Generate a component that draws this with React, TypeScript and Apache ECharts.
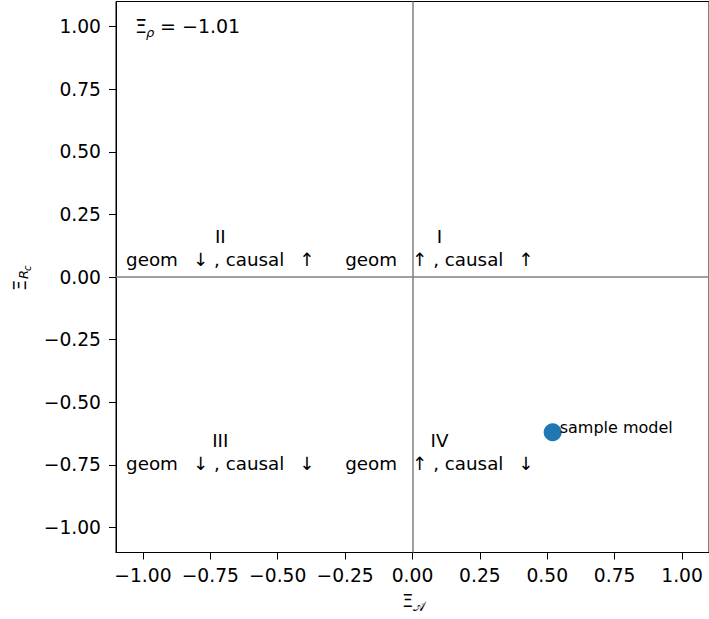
import React, { useEffect, useRef } from "react";
import * as echarts from "echarts";

const xTicks = [-1, -0.75, -0.5, -0.25, 0, 0.25, 0.5, 0.75, 1];
const yTicks = [-1, -0.75, -0.5, -0.25, 0, 0.25, 0.5, 0.75, 1];
const axisMin = -1.1;
const axisMax = 1.1;

const sampleName = "sample model";
const sampleX = [0.52];
const sampleY = [-0.62];

const quadrantNames = ["I", "II", "III", "IV"];
const quadrantTexts = [
  "geom\u2002 ↑ , causal\u2002 ↑",
  "geom\u2002 ↓ , causal\u2002 ↑",
  "geom\u2002 ↓ , causal\u2002 ↓",
  "geom\u2002 ↑ , causal\u2002 ↓",
];
const quadrantX = [0.1, -0.713, -0.713, 0.1];
const quadrantY = [0.116, 0.116, -0.7, -0.7];

const xiRhoValue = -1.01;

const FONT = "DejaVu Sans";

const fmt = (v: number) => (v < 0 ? "\u2212" : "") + Math.abs(v).toFixed(2);

export default function App() {
  const ref = useRef<HTMLDivElement>(null);
  useEffect(() => {
    if (!ref.current) return;
    const chart = echarts.init(ref.current, null, { renderer: "svg" });
    const option: any = {
      animation: false,
      backgroundColor: "#ffffff",
      grid: {
        left: 116,
        top: 1.5,
        width: 594,
        height: 551,
        show: true,
        borderColor: "#000000",
        borderWidth: 1,
        backgroundColor: "transparent",
      },
      xAxis: {
        type: "value",
        min: axisMin,
        max: axisMax,
        splitLine: { show: false },
        axisLine: { show: true, onZero: false, lineStyle: { color: "#000", width: 1 } },
        axisTick: { show: true, length: 7, customValues: xTicks, lineStyle: { color: "#000" } },
        axisLabel: {
          customValues: xTicks,
          formatter: fmt,
          fontFamily: FONT,
          fontSize: 18.7,
          color: "#000",
          margin: 13,
        },
      },
      yAxis: {
        type: "value",
        min: axisMin,
        max: axisMax,
        splitLine: { show: false },
        axisLine: { show: true, onZero: false, lineStyle: { color: "#000", width: 1 } },
        axisTick: { show: true, length: 7, customValues: yTicks, lineStyle: { color: "#000" } },
        axisLabel: {
          customValues: yTicks,
          formatter: fmt,
          fontFamily: FONT,
          fontSize: 18.7,
          color: "#000",
          margin: 15,
        },
      },
      series: [
        {
          type: "scatter",
          data: [],
          markLine: {
            silent: true,
            symbol: "none",
            label: { show: false },
            lineStyle: { color: "#808080", width: 1.5, type: "solid" },
            data: [{ xAxis: 0 }, { yAxis: 0 }],
          },
        },
        {
          type: "scatter",
          symbol: "circle",
          symbolSize: 1,
          itemStyle: { color: "rgba(0,0,0,0)" },
          silent: true,
          label: {
            show: true,
            position: "inside",
            formatter: (p: any) => p.data.text,
            fontFamily: FONT,
            fontSize: 18.3,
            lineHeight: 23,
            color: "#000000",
            opacity: 1,
            textBorderWidth: 0,
            align: "center",
          },
          data: quadrantNames.map((n, i) => ({
            value: [quadrantX[i], quadrantY[i]],
            text: n + "\n" + quadrantTexts[i],
          })),
          z: 3,
        },
        {
          type: "scatter",
          symbol: "circle",
          symbolSize: 18,
          itemStyle: { color: "#1f77b4", opacity: 1 },
          data: sampleX.map((x, i) => [x, sampleY[i]]),
          label: {
            show: true,
            position: "right",
            distance: -2,
            offset: [0, -5],
            formatter: sampleName,
            fontFamily: FONT,
            fontSize: 16,
            color: "#000",
          },
          z: 4,
        },
      ],
      graphic: [
        {
          type: "text",
          x: 135,
          y: 26,
          style: { text: "Ξ", font: `19px '${FONT}'`, fill: "#000", verticalAlign: "middle", align: "left" },
        },
        {
          type: "text",
          x: 146,
          y: 32,
          style: { text: "ρ", font: `italic 13px '${FONT}'`, fill: "#000", verticalAlign: "middle", align: "left" },
        },
        {
          type: "text",
          x: 160,
          y: 26,
          style: {
            text: "= " + fmt(xiRhoValue),
            font: `19px '${FONT}'`,
            fill: "#000",
            verticalAlign: "middle",
            align: "left",
          },
        },
        {
          type: "group",
          x: 19,
          y: 291,
          rotation: Math.PI / 2,
          children: [
            {
              type: "text",
              x: 0,
              y: 0,
              style: { text: "Ξ", font: `18px '${FONT}'`, fill: "#000", verticalAlign: "middle", align: "left" },
            },
            {
              type: "text",
              x: 12,
              y: 4,
              style: { text: "R", font: `italic 13px '${FONT}'`, fill: "#000", verticalAlign: "middle", align: "left" },
            },
            {
              type: "text",
              x: 20,
              y: 8,
              style: { text: "c", font: `italic 10px '${FONT}'`, fill: "#000", verticalAlign: "middle", align: "left" },
            },
          ],
        },
        {
          type: "text",
          x: 402,
          y: 600,
          style: { text: "Ξ", font: `18px '${FONT}'`, fill: "#000", verticalAlign: "middle", align: "left" },
        },
        {
          type: "text",
          x: 413,
          y: 606,
          style: { text: "𝒜", font: `13px '${FONT}'`, fill: "#000", verticalAlign: "middle", align: "left" },
        },
      ],
    };
    chart.setOption(option);
    return () => chart.dispose();
  }, []);
  return (
    <div
      ref={ref}
      style={{ position: "fixed", left: 0, top: 0, width: 709, height: 619 }}
    />
  );
}
